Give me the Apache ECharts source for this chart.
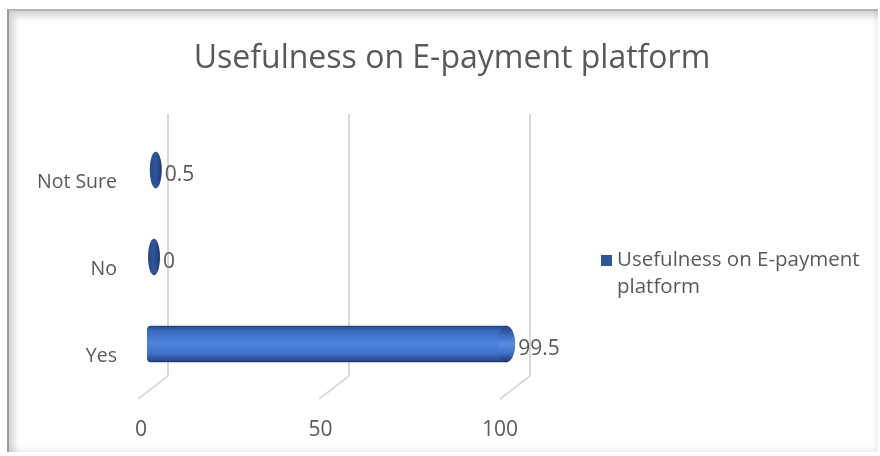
<!DOCTYPE html>
<html>
<head>
<meta charset="utf-8">
<script src="https://cdn.jsdelivr.net/npm/echarts@6/dist/echarts.min.js"></script>
<style>
  html, body { margin: 0; padding: 0; background: #ffffff; }
  #frame {
    position: absolute; left: 7px; top: 9px; width: 871px; height: 443px;
    box-sizing: border-box;
    border-left: 2px solid #9a9a9a; border-top: 2px solid #b5b5b5;
    box-shadow: inset 5px 5px 7px rgba(0,0,0,0.18), inset -3px -3px 5px rgba(0,0,0,0.06);
  }
  #chart { position: absolute; left: 0; top: 0; width: 880px; height: 456px; }
</style>
</head>
<body>
<div id="frame"></div>
<div id="chart"></div>
<script>
// ---- data ----
const categories = ['Yes', 'No', 'Not Sure'];
const values = [99.5, 0, 0.5];
const tickValues = [0, 50, 100];
const seriesName = 'Usefulness on E-payment platform';
const titleText = 'Usefulness on E-payment platform';

const textColor = '#595959';
const FONT = '"Open Sans", sans-serif';

const chart = echarts.init(document.getElementById('chart'), null, { renderer: 'canvas' });

function bodyGradient() {
  return new echarts.graphic.LinearGradient(0, 0, 0, 1, [
    { offset: 0, color: '#22427f' },
    { offset: 0.12, color: '#3767b9' },
    { offset: 0.45, color: '#4d82db' },
    { offset: 0.75, color: '#4374ca' },
    { offset: 0.92, color: '#2c5296' },
    { offset: 1, color: '#1c3567' }
  ]);
}

const option = {
  animation: false,
  backgroundColor: 'transparent',
  title: {
    text: titleText,
    left: 447, top: 38, textAlign: 'center',
    textStyle: { color: textColor, fontFamily: FONT, fontSize: 32, fontWeight: 'normal' }
  },
  legend: {
    data: [seriesName],
    left: 596, top: 242,
    itemWidth: 11, itemHeight: 38, itemGap: 0,
    icon: 'path://M0,0L11,0L11,11L0,11Z M0,38L0.01,38L0,38.01Z',
    formatter: () => 'Usefulness on E-payment\nplatform',
    textStyle: { color: textColor, fontFamily: FONT, fontSize: 20.5, lineHeight: 27 }
  },
  grid: [
    // back plane (gridlines)
    { left: 168, width: 362, top: 114, height: 262 },
    // front plane (bars)
    { left: 154, width: 354, top: 126.5, height: 261 },
    // front axis labels (x ticks and category names)
    { left: 141, width: 359, top: 138.5, height: 261 }
  ],
  xAxis: [
    { gridIndex: 0, type: 'value', min: 0, max: 100, interval: 50,
      axisLine: { show: false }, axisTick: { show: false }, axisLabel: { show: false },
      splitLine: { show: true, lineStyle: { color: '#d9d9d9', width: 2 } } },
    { gridIndex: 1, type: 'value', min: 0, max: 100, interval: 50,
      axisLine: { show: false }, axisTick: { show: false }, axisLabel: { show: false },
      splitLine: { show: false } },
    { gridIndex: 2, type: 'value', min: 0, max: 100, interval: 50,
      axisLine: { show: false }, axisTick: { show: false }, splitLine: { show: false },
      axisLabel: { show: true, color: textColor, fontFamily: FONT, fontSize: 21, margin: 20 } }
  ],
  yAxis: [
    { gridIndex: 0, type: 'category', data: categories, show: false },
    { gridIndex: 1, type: 'category', data: categories, show: false },
    { gridIndex: 2, type: 'category', data: categories,
      axisLine: { show: false }, axisTick: { show: false },
      axisLabel: { color: textColor, fontFamily: FONT, fontSize: 19.5, margin: 24 } }
  ],
  series: [
    {
      type: 'custom', name: 'floor', xAxisIndex: 0, yAxisIndex: 0,
      silent: true, legendHoverLink: false,
      data: tickValues.map(v => [v]),
      renderItem: function (params, api) {
        const cs = params.coordSys;
        const x = api.coord([api.value(0), 0])[0];
        const yb = cs.y + cs.height;
        return { type: 'line', shape: { x1: x, y1: yb, x2: x - 30, y2: yb + 23 },
                 style: { stroke: '#d9d9d9', lineWidth: 2 } };
      }
    },
    {
      type: 'custom', name: seriesName, xAxisIndex: 1, yAxisIndex: 1,
      itemStyle: { color: '#2f5597' },
      data: values.map((v, i) => [v, i]),
      encode: { x: 0, y: 1 },
      renderItem: function (params, api) {
        const v = api.value(0);
        const idx = api.value(1);
        const start = api.coord([0, idx]);
        const end = api.coord([v, idx]);
        const h = api.size([0, 1])[1] * 0.42;
        const rx = 7;
        const cy = start[1];
        const children = [];
        const long = end[0] - start[0] > 3;
        if (long) {
          children.push({
            type: 'rect',
            shape: { x: start[0] - rx, y: cy - h / 2, width: end[0] - start[0] + rx, height: h, r: [4, 0, 0, 4] },
            style: { fill: bodyGradient() }
          });
          children.push({
            type: 'ellipse',
            shape: { cx: end[0], cy: cy, rx: rx + 2, ry: h / 2 },
            style: { fill: new echarts.graphic.LinearGradient(0, 0, 0, 1, [
              { offset: 0, color: '#22427f' },
              { offset: 0.3, color: '#3f71c9' },
              { offset: 0.5, color: '#5a8de0' },
              { offset: 0.75, color: '#3f71c9' },
              { offset: 1, color: '#1c3567' }
            ]) }
          });
        } else {
          children.push({
            type: 'ellipse',
            shape: { cx: end[0], cy: cy, rx: rx - 1, ry: h / 2 },
            style: { fill: new echarts.graphic.LinearGradient(0, 0, 1, 0, [
              { offset: 0, color: '#274a8a' },
              { offset: 0.5, color: '#2f5699' },
              { offset: 1, color: '#1e3a70' }
            ]) }
          });
        }
        const lx = end[0] + (long ? rx + 5 : rx + 2);
        children.push({
          type: 'text',
          style: { x: lx, y: cy + 5, text: String(v), fill: textColor,
                   font: '21px ' + FONT, verticalAlign: 'middle', align: 'left' }
        });
        return { type: 'group', children: children };
      }
    }
  ]
};
chart.setOption(option);
</script>
</body>
</html>
